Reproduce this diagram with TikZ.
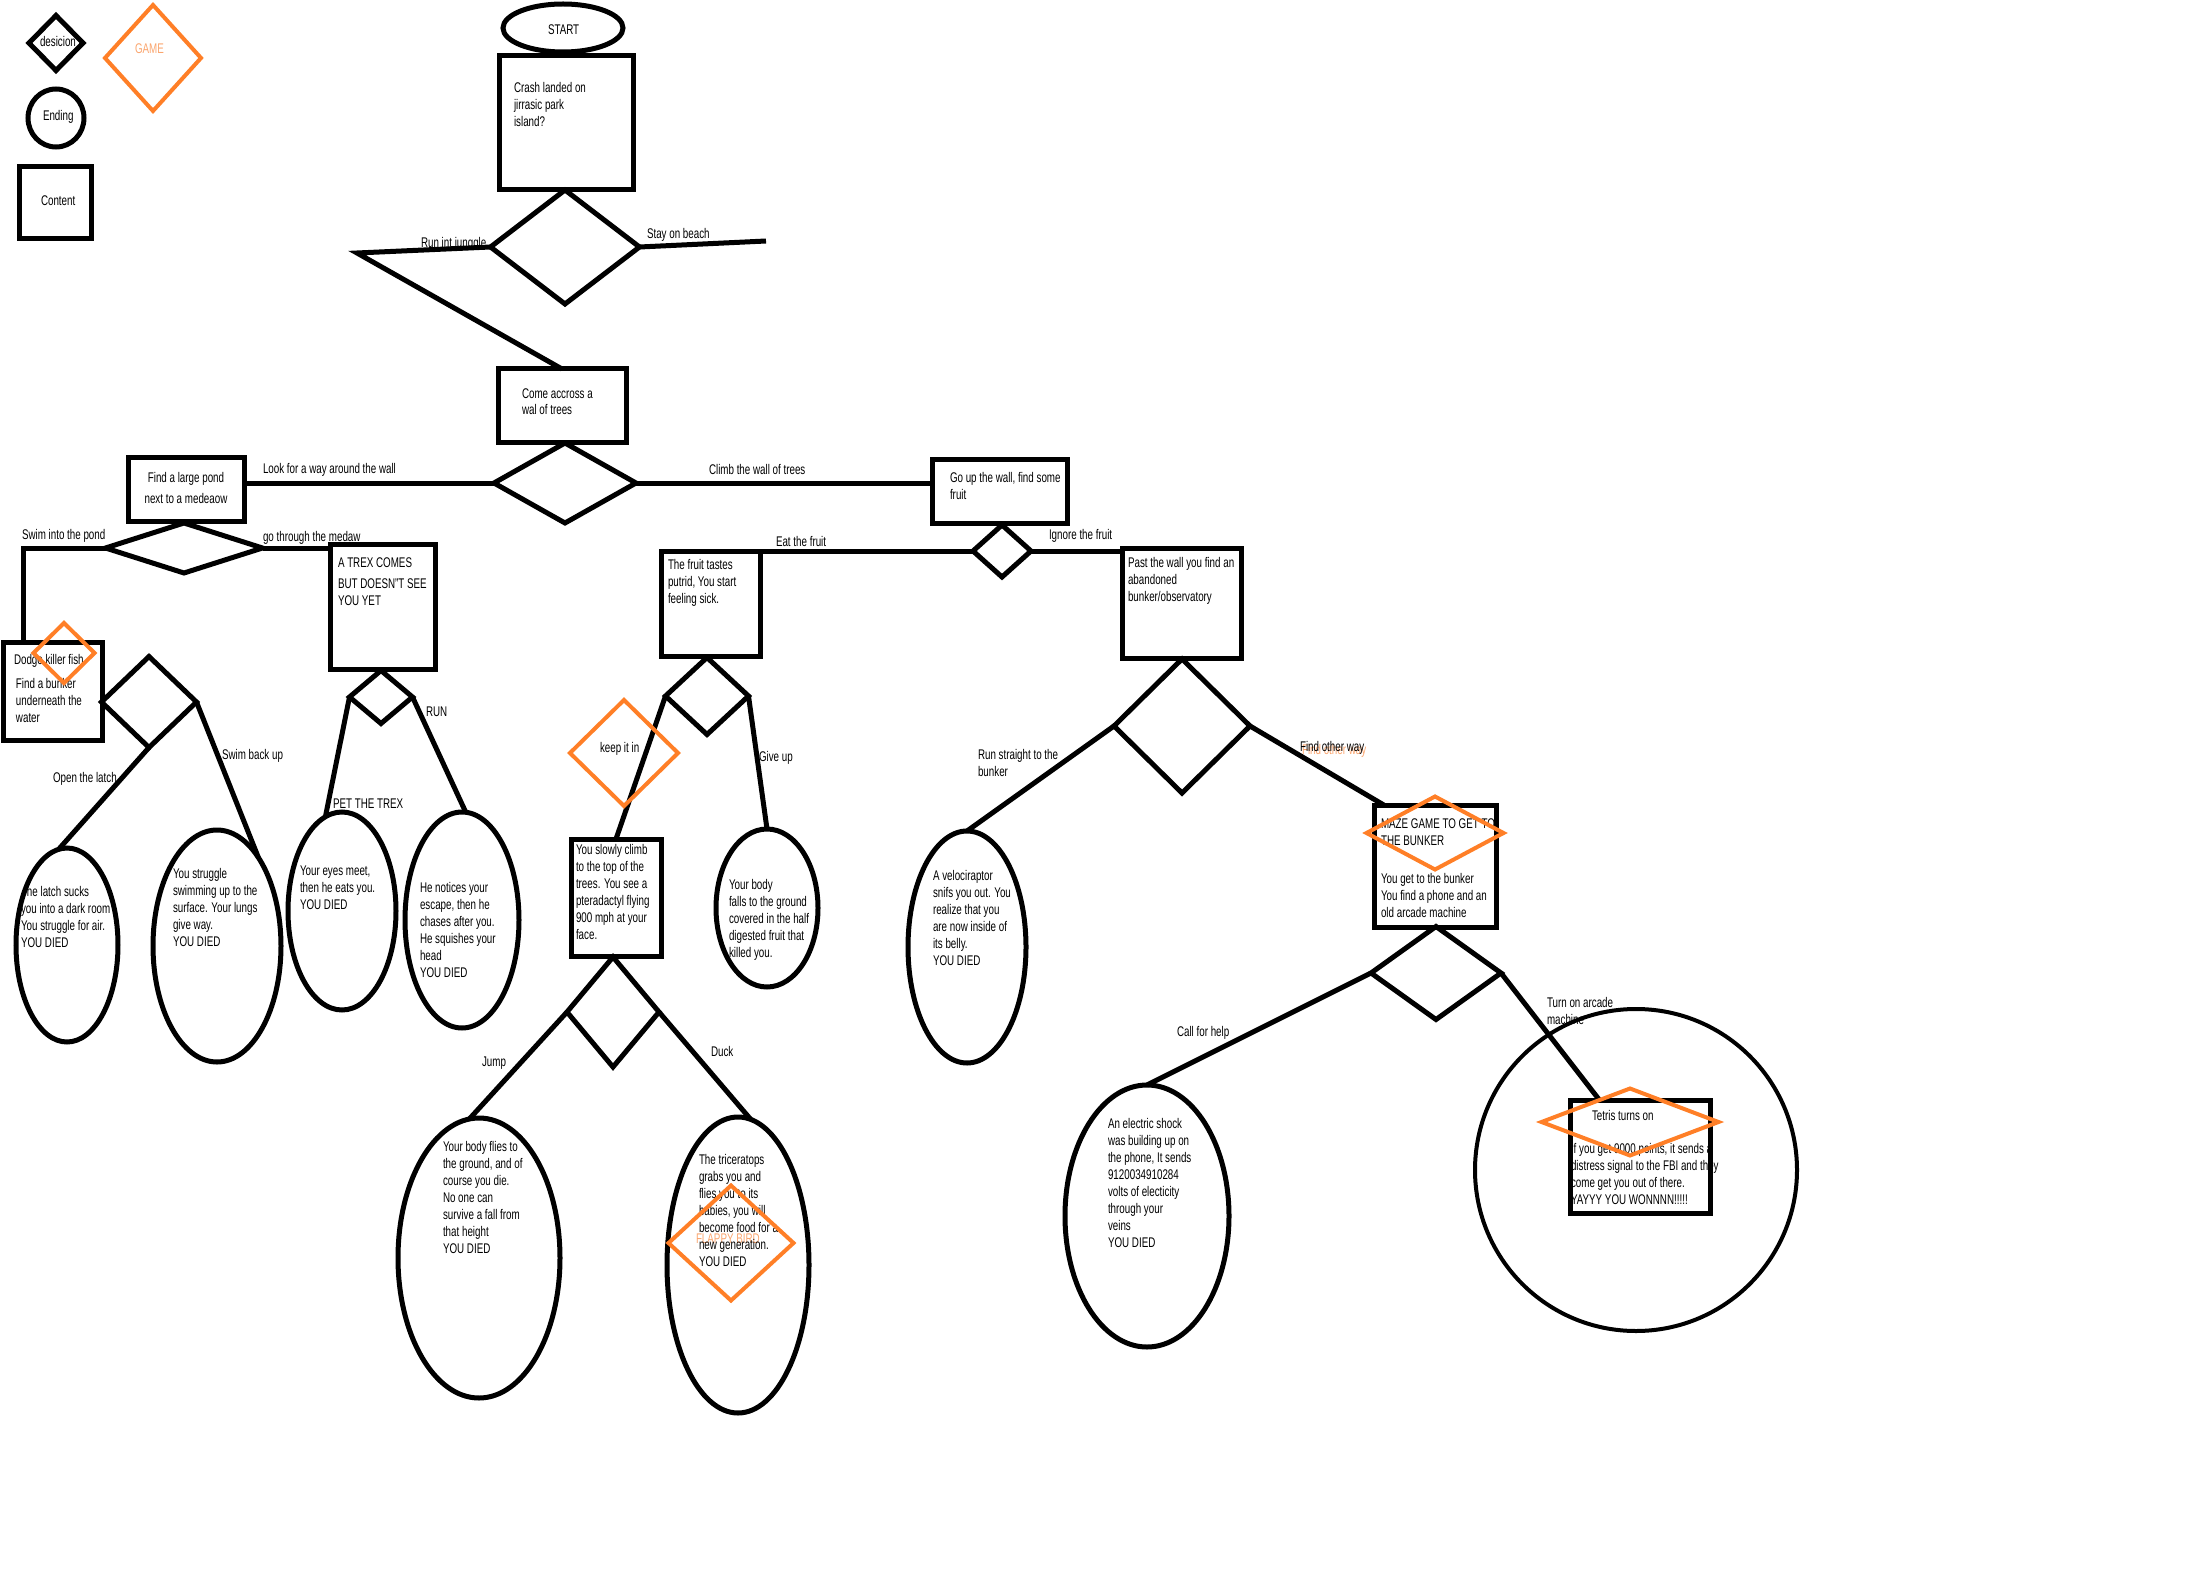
\documentclass[tikz,border=0pt]{standalone}
\usepackage{fontspec}
\setmainfont{Liberation Sans}[FakeStretch=0.70]
\usetikzlibrary{shapes.geometric,calc}
\definecolor{paintorange}{RGB}{255,127,39}
\definecolor{lightorange}{RGB}{250,165,110}
\newcommand\mlines[1]{\begin{tabular}[t]{@{}l@{}}#1\end{tabular}}
\newcommand\bodyfont{\fontsize{14}{17}\selectfont}
\tikzset{
  ink/.style={line width=5pt, black},
  box/.style={draw, ink, rectangle, inner sep=0, outer sep=0, anchor=north west},
  dia/.style={draw, ink, diamond, inner sep=0, outer sep=0},
  game/.style={draw=paintorange, line width=4pt, diamond, inner sep=0, outer sep=0},
  oval/.style={draw, ink, ellipse, inner sep=0, outer sep=0},
  txt/.style={anchor=base west, inner sep=0, outer sep=0, font=\bodyfont},
  link/.style={ink},
}
\begin{document}
\begin{tikzpicture}[x=1pt,y=-1pt]
\useasboundingbox (0,0) rectangle (2200,1586);

% ---------- texts ----------
\node[txt] (tdes) at (40,47) {desicion};
\node[txt, lightorange] (tgame) at (135,54) {GAME};
\node[txt] (tend) at (43,121) {Ending};
\node[txt] (tcont) at (41,206) {Content};
\node[txt] (tstart) at (548,35) {START};
\node[txt] (tcrash) at (514,93) {\mlines{Crash landed on\\jirrasic park\\island?}};
\node[txt] (tcome) at (522,398) {\mlines{Come accross a\\wal of trees}};
\node[txt, anchor=base] (tpond) at (186,482) {\begin{tabular}[t]{@{}c@{}}Find a large pond\\[4pt]next to a medeaow\end{tabular}};
\node[txt] (tgoup) at (950,482) {\mlines{Go up the wall, find some\\fruit}};
\node[txt] (ttrex) at (338,567) {\mlines{A TREX COMES\\[4pt]BUT DOESN"T SEE\\YOU YET}};
\node[txt] (tdodge) at (14,664) {Dodge killer fish};
\node[txt] (tbunk) at (16,688) {\mlines{Find a bunker\\underneath the\\water}};
\begin{scope}
  \clip (67,945) ellipse [x radius=51, y radius=97];
  \node[txt] (tlatch) at (21,896) {\mlines{The latch sucks\\you into a dark room\\You struggle for air.\\YOU DIED}};
\end{scope}
\node[txt] (tstrug) at (173,878) {\mlines{You struggle\\swimming up to the\\surface. Your lungs\\give way.\\YOU DIED}};
\node[txt] (tpet) at (300,875) {\mlines{Your eyes meet,\\then he eats you.\\YOU DIED}};
\node[txt] (trun) at (420,892) {\mlines{He notices your\\escape, then he\\chases after you.\\He squishes your\\head\\YOU DIED}};
\node[txt] (tfruit) at (668,569) {\mlines{The fruit tastes\\putrid, You start\\feeling sick.}};
\node[txt] (tpast) at (1128,567) {\mlines{Past the wall you find an\\abandoned\\bunker/observatory}};
\node[txt] (tclimb) at (576,854) {\mlines{You slowly climb\\to the top of the\\trees. You see a\\pteradactyl flying\\900 mph at your\\face.}};
\node[txt] (tfalls) at (729,889) {\mlines{Your body\\falls to the ground\\covered in the half\\digested fruit that\\killed you.}};
\node[txt] (traptor) at (933,880) {\mlines{A velociraptor\\snifs you out. You\\realize that you\\are now inside of\\its belly.\\YOU DIED}};
\node[txt] (tjump) at (443,1151) {\mlines{Your body flies to\\the ground, and of\\course you die.\\No one can\\survive a fall from\\that height\\YOU DIED}};
\node[txt, lightorange] (tflappy) at (696,1243) {FLAPPY BIRD};
\node[txt] (tduck) at (699,1164) {\mlines{The triceratops\\grabs you and\\flies you to its\\babies, you will\\become food for a\\new generation.\\YOU DIED}};
\node[txt] (tcall) at (1108,1128) {\mlines{An electric shock\\was building up on\\the phone, It sends\\9120034910284\\volts of electicity\\through your\\veins\\YOU DIED}};
\node[txt] (tmaze) at (1381,828) {\mlines{MAZE GAME TO GET TO\\THE BUNKER}};
\node[txt] (tphone) at (1381,883) {\mlines{You get to the bunker\\You find a phone and an\\old arcade machine}};
\node[txt] (ttetris) at (1592,1120) {Tetris turns on};
\node[txt] (twin) at (1571,1153) {\mlines{If you get 9000 points, it sends a\\distress signal to the FBI and they\\come get you out of there.\\YAYYY YOU WONNNN!!!!!}};

% ---------- branch labels ----------
\node[txt] (l1) at (421,248) {Run int junggle};
\node[txt] (l2) at (647,239) {Stay on beach};
\node[txt] (l3) at (263,473) {Look for a way around the wall};
\node[txt] (l4) at (709,474) {Climb the wall of trees};
\node[txt] (l5) at (22,539) {Swim into the pond};
\node[txt] (l6) at (263,541) {go through the medaw};
\node[txt] (l7) at (53,782) {Open the latch};
\node[txt] (l8) at (222,759) {Swim back up};
\node[txt] (l9) at (333,808) {PET THE TREX};
\node[txt] (l10) at (426,716) {RUN};
\node[txt] (l11) at (776,546) {Eat the fruit};
\node[txt] (l12) at (1049,539) {Ignore the fruit};
\node[txt] (l13) at (600,752) {keep it in};
\node[txt] (l14) at (759,761) {Give up};
\node[txt] (l15) at (978,759) {\mlines{Run straight to the\\bunker}};
\node[txt, lightorange] (l16b) at (1302,754) {Find other way};
\node[txt] (l16) at (1300,751) {Find other way};
\node[txt] (l17) at (482,1066) {Jump};
\node[txt] (l18) at (711,1056) {Duck};
\node[txt] (l19) at (1177,1036) {Call for help};
\node[txt] (l20) at (1547,1007) {\mlines{Turn on arcade\\machine}};

% ---------- legend ----------
\node[dia, minimum width=54, minimum height=55] (legdia) at (56,43) {};
\node[oval, minimum width=56, minimum height=58] (legend) at (56,118) {};
\node[box, minimum width=72, minimum height=72] (legbox) at (19,167) {};

% ---------- content boxes ----------
\node[oval, minimum width=120, minimum height=48] (start) at (563,28) {};
\node[box, minimum width=134, minimum height=134] (crash) at (499,56) {};
\node[box, minimum width=128, minimum height=73] (come) at (498,369) {};
\node[box, minimum width=116, minimum height=64] (pond) at (128,457) {};
\node[box, minimum width=135, minimum height=64] (goup) at (932,459) {};
\node[box, minimum width=99, minimum height=98] (dodge) at (3,642) {};
\node[box, minimum width=105, minimum height=125] (trex) at (330,544) {};
\node[box, minimum width=99, minimum height=105] (fruit) at (661,551) {};
\node[box, minimum width=119, minimum height=110] (past) at (1122,548) {};
\node[box, minimum width=90, minimum height=117] (climb) at (571,839) {};
\node[box, minimum width=122, minimum height=122] (maze) at (1374,805) {};
\node[box, minimum width=140, minimum height=113] (tetris) at (1570,1100) {};

% ---------- decisions ----------
\node[dia, minimum width=149, minimum height=114] (d1) at (565,247) {};
\node[dia, minimum width=142, minimum height=80] (d2) at (565,483) {};
\node[dia, minimum width=157, minimum height=50] (d3) at (184,548) {};
\node[dia, minimum width=95, minimum height=91] (d4) at (149,702) {};
\node[dia, minimum width=63, minimum height=53] (d5) at (381,697) {};
\node[dia, minimum width=58, minimum height=52] (d7) at (1002,551) {};
\node[dia, minimum width=83, minimum height=77] (d8) at (707,696) {};
\node[dia, minimum width=92, minimum height=110] (d9) at (613,1012) {};
\node[dia, minimum width=136, minimum height=134] (d10) at (1182,726) {};
\node[dia, minimum width=130, minimum height=93] (d11) at (1436,973) {};

% ---------- endings ----------
\node[oval, minimum width=102, minimum height=194] (latch) at (67,945) {};
\node[oval, minimum width=128, minimum height=232] (struggle) at (217,946) {};
\node[oval, minimum width=108, minimum height=198] (pet) at (342,911) {};
\node[oval, minimum width=114, minimum height=216] (runend) at (462,920) {};
\node[oval, minimum width=102, minimum height=158] (falls) at (767,908) {};
\node[oval, minimum width=162, minimum height=280] (jump) at (479,1258) {};
\node[oval, minimum width=142, minimum height=296] (duck) at (738,1265) {};
\node[oval, minimum width=118, minimum height=232] (raptor) at (967,947) {};
\node[oval, minimum width=164, minimum height=262] (call) at (1147,1216) {};
\node[oval, line width=4pt, minimum width=322, minimum height=322] (win) at (1636,1170) {};

% ---------- connectors ----------
\coordinate (jc) at (357,253);
\coordinate (beach) at (766,241);
\coordinate (sc) at (23,548);
\draw[link] (d1.west) -- (jc) -- (come.north);
\draw[link] (d1.east) -- (beach);
\draw[link] (d2.west) -- (d2.west -| pond.east);
\draw[link] (d2.east) -- (d2.east -| goup.west);
\draw[link] (d3.west) -- (sc) -- (sc |- dodge.north);
\draw[link] (d3.east) -- (d3.east -| trex.west);
\draw[link] (d4.south) -- (latch.95);
\draw[link] (d4.east) -- (struggle.65);
\draw[link] (d5.west) -- (pet.100);
\draw[link] (d5.east) -- (runend.88);
\draw[link] (d7.west) -- (fruit.north east);
\draw[link] (d7.east) -- (d7.east -| past.west);
\draw[link] (d8.west) -- (climb.north);
\draw[link] (d8.east) -- (falls.north);
\draw[link] (d9.west) -- (jump.94);
\draw[link] (d9.east) -- (duck.85);
\draw[link] (d10.west) -- (raptor.north);
\draw[link] (d10.east) -- ($(maze.north west)!0.08!(maze.north east)$);
\draw[link] (d11.west) -- (call.north);
\draw[link] (d11.east) -- ($(tetris.north west)!0.21!(tetris.north east)$);

% ---------- game markers ----------
\node[game, minimum width=96, minimum height=106] (leggame) at (153,58) {};
\node[game, minimum width=61, minimum height=60] (g1) at (64,653) {};
\node[game, minimum width=108, minimum height=106] (g2) at (624,753) {};
\node[game, minimum width=125, minimum height=115] (g3) at (731,1243) {};
\node[game, minimum width=137, minimum height=73] (g4) at (1435,833) {};
\node[game, minimum width=177, minimum height=67] (g5) at (1630,1122) {};
\end{tikzpicture}
\end{document}
